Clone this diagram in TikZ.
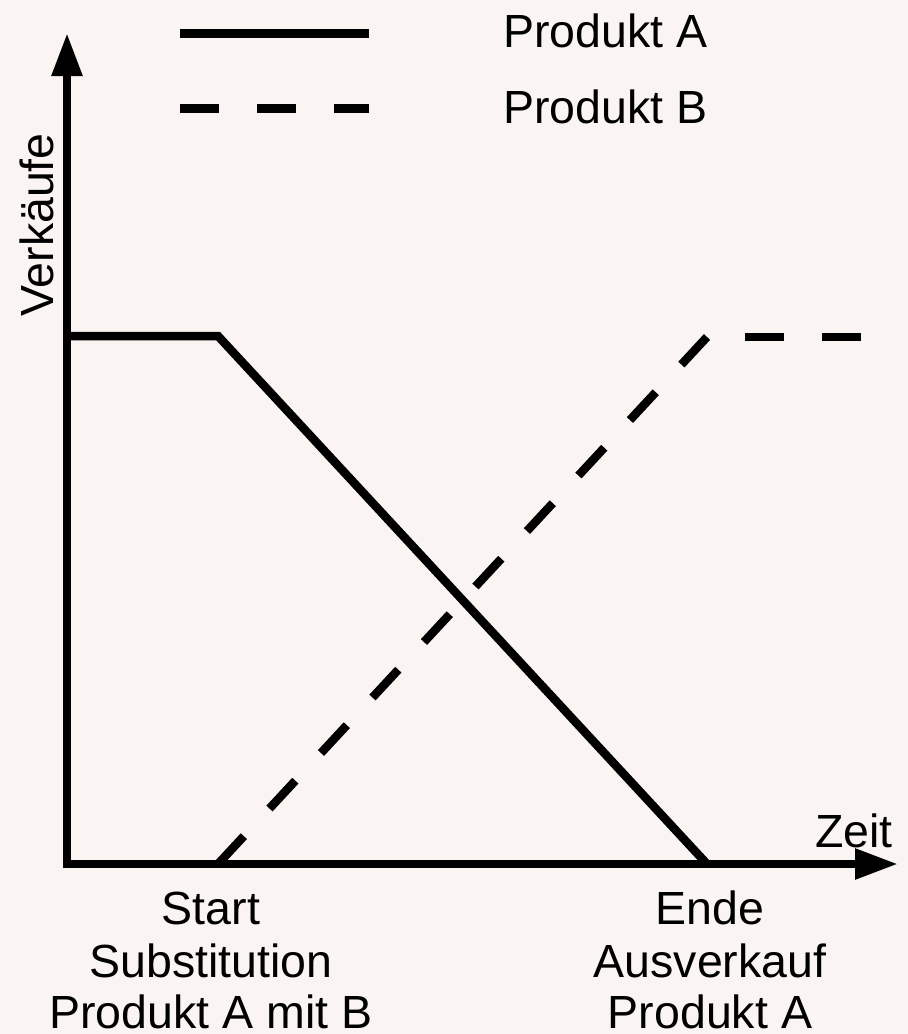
\documentclass[tikz,border=0pt]{standalone}
\usepackage{fontspec}
\setmainfont{Liberation Sans}
\usetikzlibrary{arrows.meta}
\definecolor{bgc}{RGB}{250,245,242}
\begin{document}
\begin{tikzpicture}[x=1pt,y=-1pt,
  lbl/.style={inner sep=0pt,anchor=base,font=\fontsize{46.5}{55}\selectfont},
  thick line/.style={line width=8.5pt},
  axis/.style={thick line,-{Triangle[length=43pt,width=29pt]}},
  dashline/.style={thick line,dash pattern=on 39pt off 38pt}]
\fill[bgc] (0,0) rectangle (908,1034);
\useasboundingbox (0,0) rectangle (908,1034);
% coordinates
\coordinate (o) at (67,864);
\coordinate (ytop) at (67,33);
\coordinate (ybot) at (67,868);
\coordinate (xl) at (63,864);
\coordinate (xr) at (898,864);
\coordinate (a0) at (67,336);
\coordinate (a1) at (218,336);
\coordinate (a2) at (707,864);
\coordinate (b0) at (218,864);
\coordinate (b1) at (707,337);
\coordinate (b2) at (861,337);
\coordinate (la0) at (180,33.5);
\coordinate (la1) at (369,33.5);
\coordinate (lb0) at (180,108.7);
\coordinate (lb1) at (369,108.7);
% axes
\draw[axis] (ybot) -- (ytop);
\draw[axis] (xl) -- (xr);
% product A
\draw[thick line] (a0) -- (a1) -- (a2);
% product B
\draw[thick line,dash pattern=on 38pt off 37.7pt] (b0) -- (b1);
\draw[dashline,dash phase=39pt] (b1) -- (b2);
% legend
\draw[thick line] (la0) -- (la1);
\draw[dashline] (lb0) -- (lb1);
\node[lbl,anchor=base west] (ta) at (503,47) {Produkt A};
\node[lbl,anchor=base west] (tb) at (503,123) {Produkt B};
% axis labels
\node[lbl,rotate=90] (yl) at (53,225) {Verkäufe};
\node[lbl] (xlab) at (854,847) {Zeit};
% bottom labels
\node[lbl] (s1) at (211,924) {Start};
\node[lbl] (s2) at (211,977) {Substitution};
\node[lbl] (s3) at (211,1028) {Produkt A mit B};
\node[lbl] (e1) at (710,924) {Ende};
\node[lbl] (e2) at (710,977) {Ausverkauf};
\node[lbl] (e3) at (710,1028) {Produkt A};
\end{tikzpicture}
\end{document}
